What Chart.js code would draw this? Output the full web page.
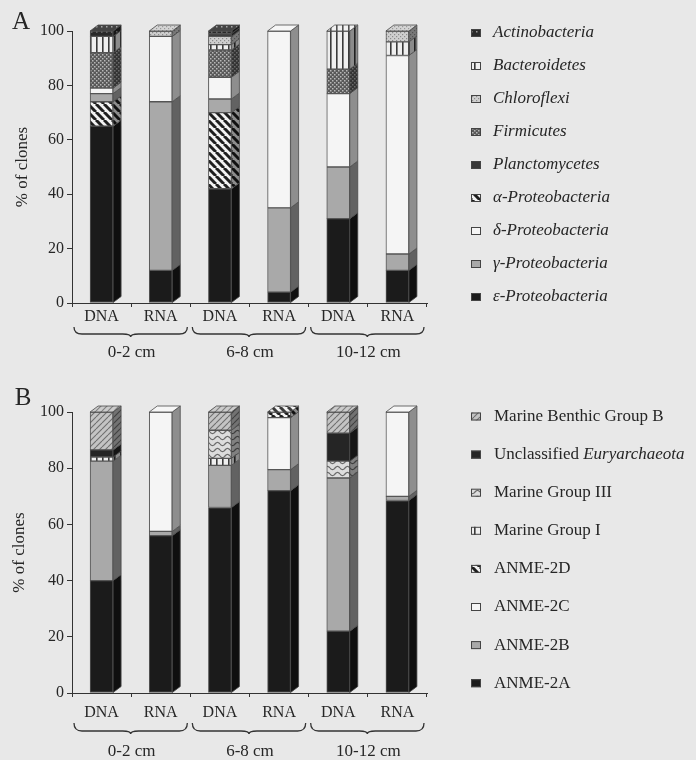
<!DOCTYPE html>
<html><head><meta charset="utf-8">
<script src="https://cdn.jsdelivr.net/npm/chart.js@4"></script>
<style>
html,body{margin:0;padding:0;background:#e8e8e8;}
#wrap{position:relative;width:696px;height:760px;background:#e8e8e8;}
#cA{position:absolute;left:0;top:0;}
#cB{position:absolute;left:0;top:375px;}
</style></head><body>
<div id="wrap"><canvas id="cA" width="696" height="375"></canvas><canvas id="cB" width="696" height="385"></canvas></div>
<script>
// ---------- data ----------
const categories = ['DNA','RNA','DNA','RNA','DNA','RNA'];
const depthGroups = ['0-2 cm','6-8 cm','10-12 cm'];
const yTickValues = [0,20,40,60,80,100];

// Panel A (bacteria), stacked bottom -> top
const epsilonProteo  = [65,12,42, 4,31,12];
const alphaProteo    = [ 9, 0,28, 0, 0, 0];
const gammaProteo    = [ 3,62, 5,31,19, 6];
const deltaProteo    = [ 2,24, 8,65,27,73];
const firmicutes     = [13, 0,10, 0, 9, 0];
const bacteroidetes  = [ 6, 0, 2, 0,14, 5];
const chloroflexi    = [ 0, 2, 3, 0, 0, 4];
const planctomycetes = [ 0, 0, 1, 0, 0, 0];
const actinobacteria = [ 2, 0, 1, 0, 0, 0];

// Panel B (archaea), stacked bottom -> top
const anme2A      = [40,  56,  66, 72,  22, 68.5];
const anme2B      = [42.5,1.5, 15, 7.5, 54.5,1.5];
const anme2C      = [0,   42.5,0,  18.5,0,   30];
const anme2D      = [0,   0,   0,  2,   0,   0];
const marineGrpI  = [1.5, 0,   2.5,0,   0,   0];
const marineGrpIII= [0,   0,   10, 0,   6,   0];
const unclassEury = [2.5, 0,   0,  0,   10,  0];
const marineBenthicB = [13.5,0, 6.5,0,   7.5, 0];

// ---------- patterns ----------
function makeTile(w,h,draw){const c=document.createElement('canvas');c.width=w;c.height=h;const g=c.getContext('2d');draw(g,w,h);return c;}
const tiles = {
  stripes: makeTile(8,8,(g,w,h)=>{g.fillStyle='#f2f2f2';g.fillRect(0,0,w,h);g.strokeStyle='#1e1e1e';g.lineWidth=3;for(const k of [-8,0,8]){g.beginPath();g.moveTo(k,0);g.lineTo(k+8,8);g.stroke();}}),
  vlines: makeTile(6,6,(g,w,h)=>{g.fillStyle='#efefef';g.fillRect(0,0,w,h);g.fillStyle='#3a3a3a';g.fillRect(0,0,1.6,h);}),
  darkDots: makeTile(4,4,(g,w,h)=>{g.fillStyle='#595959';g.fillRect(0,0,w,h);g.fillStyle='#b8b8b8';g.fillRect(0,0,1.5,1.5);g.fillRect(2,2,1.5,1.5);}),
  lightDots: makeTile(4,4,(g,w,h)=>{g.fillStyle='#cfcfcf';g.fillRect(0,0,w,h);g.fillStyle='#8c8c8c';g.fillRect(0,0,1.2,1.2);g.fillRect(2,2,1.2,1.2);}),
  actino: makeTile(5,5,(g,w,h)=>{g.fillStyle='#2a2a2a';g.fillRect(0,0,w,h);g.fillStyle='#9a9a9a';g.fillRect(1,1,1.5,1.5);}),
  wavy: makeTile(10,6,(g,w,h)=>{g.fillStyle='#dddddd';g.fillRect(0,0,w,h);g.strokeStyle='#6a6a6a';g.lineWidth=1.2;g.beginPath();for(let x=0;x<=w;x+=0.5){const y=3+1.6*Math.sin(x/w*2*Math.PI);if(x===0)g.moveTo(x,y);else g.lineTo(x,y);}g.stroke();}),
  benthic: makeTile(6,6,(g,w,h)=>{g.fillStyle='#c4c4c4';g.fillRect(0,0,w,h);g.strokeStyle='#6e6e6e';g.lineWidth=1.1;for(const k of [-6,0,6]){g.beginPath();g.moveTo(k,6);g.lineTo(k+6,0);g.stroke();}})
};
const ctxA = document.getElementById('cA').getContext('2d');
const ctxB = document.getElementById('cB').getContext('2d');
function pat(ctx,name){return ctx.createPattern(tiles[name],'repeat');}

const BLACK='#1b1b1b', GRAY='#a9a9a9', WHITE='#f5f5f5', TEXT='#262626';
const SERIF='"Liberation Serif","Times New Roman",serif';

// ---------- plugin: 3D faces, legend, braces, panel letter ----------
const decoPlugin = {
  id:'deco',
  afterDatasetsDraw(chart){
    const ctx=chart.ctx, dx=8, dy=6;
    const metas=chart.getSortedVisibleDatasetMetas();
    const n=chart.data.labels.length;
    const topIdx=[];
    for(let i=0;i<n;i++){let t=-1;chart.data.datasets.forEach((ds,k)=>{if(ds.data[i]>0)t=k;});topIdx.push(t);}
    for(const meta of metas){
      const ds=chart.data.datasets[meta.index];
      meta.data.forEach((el,i)=>{
        if(!(ds.data[i]>0))return;
        const p=el.getProps(['x','y','base','width'],true);
        const l=p.x-p.width/2, r=p.x+p.width/2;
        ctx.save();
        ctx.beginPath();ctx.moveTo(r,p.y);ctx.lineTo(r+dx,p.y-dy);ctx.lineTo(r+dx,p.base-dy);ctx.lineTo(r,p.base);ctx.closePath();
        ctx.fillStyle=ds.backgroundColor;ctx.fill();
        ctx.fillStyle='rgba(0,0,0,0.42)';ctx.fill();
        ctx.strokeStyle='#4a4a4a';ctx.lineWidth=0.8;ctx.stroke();
        if(topIdx[i]===meta.index){
          ctx.beginPath();ctx.moveTo(l,p.y);ctx.lineTo(l+dx,p.y-dy);ctx.lineTo(r+dx,p.y-dy);ctx.lineTo(r,p.y);ctx.closePath();
          ctx.fillStyle=ds.backgroundColor;ctx.fill();
          ctx.fillStyle='rgba(255,255,255,0.12)';ctx.fill();
          ctx.strokeStyle='#4a4a4a';ctx.lineWidth=0.8;ctx.stroke();
        }
        ctx.restore();
      });
    }
  },
  afterDraw(chart,args,o){
    const ctx=chart.ctx;
    ctx.save();
    // panel letter
    ctx.fillStyle=TEXT;ctx.textAlign='center';ctx.textBaseline='middle';
    ctx.font='25px '+SERIF;ctx.fillText(o.letter,o.letterX,o.letterY);
    // braces + group labels
    const xs=chart.scales.x;
    const half=(xs.getPixelForValue(1)-xs.getPixelForValue(0))/2;
    ctx.strokeStyle='#333';ctx.lineWidth=1.3;
    depthGroups.forEach((g,gi)=>{
      const x1=xs.getPixelForValue(2*gi)-half+2, x2=xs.getPixelForValue(2*gi+1)+half-3;
      const xm=(x1+x2)/2, y0=o.braceTop, h=o.braceH-3, tip=3, rr=8;
      ctx.beginPath();
      ctx.moveTo(x1,y0);ctx.quadraticCurveTo(x1,y0+h,x1+rr,y0+h);ctx.lineTo(xm-rr,y0+h);ctx.quadraticCurveTo(xm,y0+h,xm,y0+h+tip);
      ctx.moveTo(x2,y0);ctx.quadraticCurveTo(x2,y0+h,x2-rr,y0+h);ctx.lineTo(xm+rr,y0+h);ctx.quadraticCurveTo(xm,y0+h,xm,y0+h+tip);
      ctx.stroke();
      ctx.font='17px '+SERIF;ctx.fillStyle=TEXT;ctx.textAlign='center';ctx.textBaseline='middle';
      ctx.fillText(g,xm+1,o.groupY);
    });
    // legend
    ctx.textAlign='left';ctx.textBaseline='middle';
    o.legend.forEach((it,i)=>{
      const y=o.legendY0+i*o.legendStep;
      const ds=chart.data.datasets[it.ds];
      ctx.fillStyle=ds.backgroundColor;ctx.fillRect(o.iconX,y-4,10,8);
      ctx.strokeStyle='#444';ctx.lineWidth=1;ctx.strokeRect(o.iconX+0.5,y-3.5,9,7);
      let x=o.textX;
      it.parts.forEach(pt=>{
        ctx.font=(pt[1]?'italic ':'')+'17px '+SERIF;ctx.fillStyle=TEXT;
        ctx.fillText(pt[0],x,y);x+=ctx.measureText(pt[0]).width;
      });
    });
    ctx.restore();
  }
};

function baseOptions(o){
  return {
    responsive:false, animation:false,
    layout:{padding:{left:0,right:269,top:o.top,bottom:0}},
    datasets:{bar:{barThickness:23,borderColor:'#555',borderWidth:1,borderSkipped:false}},
    plugins:{legend:{display:false},tooltip:{enabled:false},deco:o.deco},
    scales:{
      x:{stacked:true,
        afterFit:s=>{s.height=o.xHeight;},
        grid:{offset:true,drawOnChartArea:false,drawTicks:true,tickLength:4,color:'#333'},
        border:{color:'#333',width:1},
        ticks:{padding:o.xPad,color:TEXT,font:{family:SERIF,size:16}}},
      y:{stacked:true,min:0,max:100,
        afterFit:s=>{s.width=72;},
        afterBuildTicks:s=>{s.ticks=yTickValues.map(v=>({value:v}));},
        grid:{drawOnChartArea:false,drawTicks:true,tickLength:5,color:'#333'},
        border:{color:'#333',width:1},
        ticks:{padding:3,color:TEXT,font:{family:SERIF,size:16}},
        title:{display:true,text:'% of clones',color:TEXT,font:{family:SERIF,size:17},padding:{top:o.titlePad,bottom:0}}}
    }
  };
}

// ---------- Panel A ----------
new Chart(ctxA,{
  type:'bar',
  data:{labels:categories,datasets:[
    {label:'ε-Proteobacteria',data:epsilonProteo,backgroundColor:BLACK},
    {label:'α-Proteobacteria',data:alphaProteo,backgroundColor:pat(ctxA,'stripes')},
    {label:'γ-Proteobacteria',data:gammaProteo,backgroundColor:GRAY},
    {label:'δ-Proteobacteria',data:deltaProteo,backgroundColor:WHITE},
    {label:'Firmicutes',data:firmicutes,backgroundColor:pat(ctxA,'darkDots')},
    {label:'Bacteroidetes',data:bacteroidetes,backgroundColor:pat(ctxA,'vlines')},
    {label:'Chloroflexi',data:chloroflexi,backgroundColor:pat(ctxA,'lightDots')},
    {label:'Planctomycetes',data:planctomycetes,backgroundColor:'#383838'},
    {label:'Actinobacteria',data:actinobacteria,backgroundColor:pat(ctxA,'actino')}
  ]},
  options:baseOptions({top:31,xHeight:72,xPad:0,titlePad:12,deco:{
    letter:'A',letterX:21,letterY:22,braceTop:327,braceH:10,groupY:353,
    iconX:471,textX:493,legendY0:33,legendStep:33,
    legend:[
      {ds:8,parts:[['Actinobacteria',1]]},
      {ds:5,parts:[['Bacteroidetes',1]]},
      {ds:6,parts:[['Chloroflexi',1]]},
      {ds:4,parts:[['Firmicutes',1]]},
      {ds:7,parts:[['Planctomycetes',1]]},
      {ds:1,parts:[['α-Proteobacteria',1]]},
      {ds:3,parts:[['δ-Proteobacteria',1]]},
      {ds:2,parts:[['γ-Proteobacteria',1]]},
      {ds:0,parts:[['ε-Proteobacteria',1]]}
    ]}}),
  plugins:[decoPlugin]
});

// ---------- Panel B ----------
new Chart(ctxB,{
  type:'bar',
  data:{labels:categories,datasets:[
    {label:'ANME-2A',data:anme2A,backgroundColor:BLACK},
    {label:'ANME-2B',data:anme2B,backgroundColor:GRAY},
    {label:'ANME-2C',data:anme2C,backgroundColor:WHITE},
    {label:'ANME-2D',data:anme2D,backgroundColor:pat(ctxB,'stripes')},
    {label:'Marine Group I',data:marineGrpI,backgroundColor:pat(ctxB,'vlines')},
    {label:'Marine Group III',data:marineGrpIII,backgroundColor:pat(ctxB,'wavy')},
    {label:'Unclassified Euryarchaeota',data:unclassEury,backgroundColor:'#252525'},
    {label:'Marine Benthic Group B',data:marineBenthicB,backgroundColor:pat(ctxB,'benthic')}
  ]},
  options:baseOptions({top:37,xHeight:67,xPad:6,titlePad:9,deco:{
    letter:'B',letterX:23,letterY:23,braceTop:348,braceH:11,groupY:377,
    iconX:471,textX:494,legendY0:41.5,legendStep:38.1,
    legend:[
      {ds:7,parts:[['Marine Benthic Group B',0]]},
      {ds:6,parts:[['Unclassified ',0],['Euryarchaeota',1]]},
      {ds:5,parts:[['Marine Group III',0]]},
      {ds:4,parts:[['Marine Group I',0]]},
      {ds:3,parts:[['ANME-2D',0]]},
      {ds:2,parts:[['ANME-2C',0]]},
      {ds:1,parts:[['ANME-2B',0]]},
      {ds:0,parts:[['ANME-2A',0]]}
    ]}}),
  plugins:[decoPlugin]
});
</script>
</body></html>
